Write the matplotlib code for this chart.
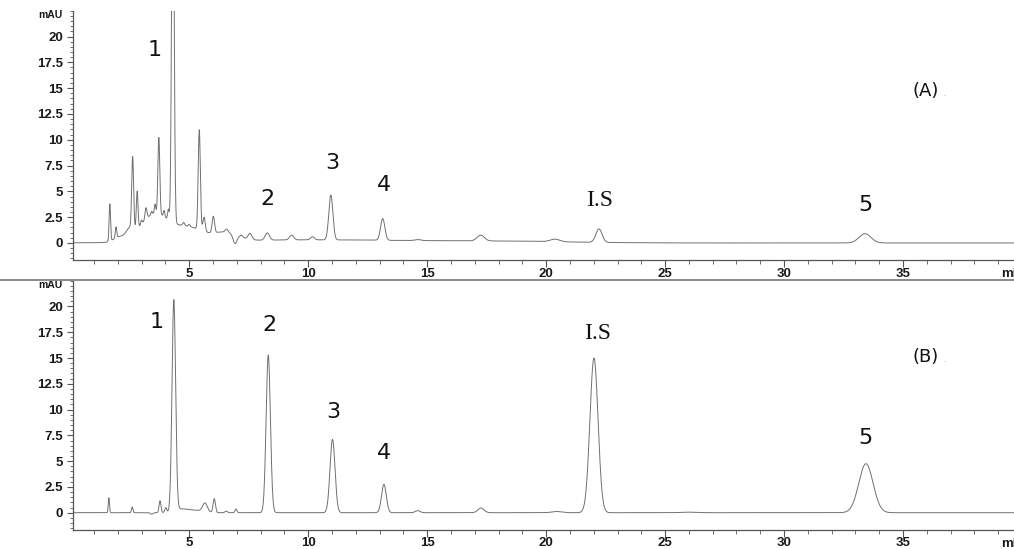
import numpy as np
import matplotlib
matplotlib.use('Agg')
import matplotlib.pyplot as plt
from matplotlib.ticker import MultipleLocator, FixedLocator
from matplotlib.lines import Line2D

# peak tables: retention time (min), height (mAU), sigma (min)
a_times = [1.66, 1.92, 2.05, 2.5, 2.62, 2.81, 2.99, 3.18, 3.42, 3.55, 3.56, 3.72, 3.94, 4.12,
           4.31, 4.76, 5.0, 5.0, 5.42, 5.62, 6.01, 6.5, 6.57, 6.92, 7.2, 7.55, 8.28, 9.3,
           10.0, 10.18, 10.95, 13.13, 14.6, 17.25, 18.0, 20.37, 22.22, 33.4]
a_heights = [3.6, 1.05, 0.45, 0.8, 6.9, 3.6, 0.4, 1.1, 0.3, 2.7, 0.9, 7.4, 0.6, 1.0,
             40.0, 0.3, 0.2, 1.3, 9.7, 1.4, 1.6, 0.8, 0.3, -0.85, 0.2, 0.6, 0.7, 0.45,
             0.3, 0.3, 4.35, 2.1, 0.1, 0.55, 0.15, 0.25, 1.3, 0.9]
a_widths = [0.03, 0.03, 0.25, 0.15, 0.04, 0.035, 0.03, 0.04, 0.03, 0.6, 0.03, 0.04, 0.03, 0.03,
            0.05, 0.04, 0.04, 0.6, 0.045, 0.05, 0.05, 0.5, 0.06, 0.08, 0.07, 0.08, 0.09, 0.09,
            4.0, 0.08, 0.085, 0.09, 0.12, 0.15, 3.0, 0.2, 0.13, 0.25]

b_times = [1.62, 2.60, 3.42, 3.77, 4.01, 4.35, 4.65, 5.3, 5.66, 6.05, 6.55, 6.96, 8.32,
           11.02, 13.18, 14.6, 17.26, 20.43, 22.01, 26.0, 33.44]
b_heights = [1.45, 0.55, -0.15, 1.15, 0.45, 20.45, 0.35, 0.2, 0.85, 1.35, 0.15, 0.35, 15.3,
             7.1, 2.75, 0.2, 0.45, 0.12, 15.0, 0.05, 4.75]
b_widths = [0.025, 0.03, 0.05, 0.04, 0.04, 0.075, 0.3, 0.3, 0.1, 0.05, 0.05, 0.04, 0.09,
            0.105, 0.1, 0.1, 0.13, 0.2, 0.17, 0.3, 0.3]

# peak labels
a_lab_text = ['1', '2', '3', '4', 'I.S', '5']
a_lab_x = [3.56, 8.28, 11.01, 13.18, 22.26, 33.44]
a_lab_y = [18.7, 4.24, 7.77, 5.6, 4.08, 3.66]
b_lab_text = ['1', '2', '3', '4', 'I.S', '5']
b_lab_x = [3.63, 8.39, 11.04, 13.19, 22.15, 33.44]
b_lab_y = [18.45, 18.2, 9.8, 5.77, 17.4, 7.25]
panel_tags = ['(A)', '(B)']
tag_y = [14.7, 15.1]

W, H = 1014, 549
fig = plt.figure(figsize=(W / 100, H / 100), dpi=100, facecolor='w')

t = np.linspace(0, 40, 8000)

def trace(times, heights, widths):
    y = np.zeros_like(t)
    for c, h, s in zip(times, heights, widths):
        y += h * np.exp(-(t - c) ** 2 / (2 * s ** 2))
    return y

tickfont = dict(family='Liberation Sans', size=9.5, weight='bold')
gray = '#555555'

def panel(top_px, bot_px, times, heights, widths, lx, ly, ltext, tag, tagy):
    ax = fig.add_axes([72.7 / W, 1 - bot_px / H, (1022 - 72.7) / W, (bot_px - top_px) / H])
    ax.plot(t, trace(times, heights, widths), color='#707070', lw=0.7)
    ax.set_xlim(0.1, 40)
    ax.set_ylim(-1.65, 22.5)
    for s in ['top', 'right']:
        ax.spines[s].set_visible(False)
    for s in ['left', 'bottom']:
        ax.spines[s].set_color(gray)
        ax.spines[s].set_linewidth(0.9)
    ax.xaxis.set_major_locator(FixedLocator([5, 10, 15, 20, 25, 30, 35]))
    ax.xaxis.set_minor_locator(MultipleLocator(1))
    ax.yaxis.set_major_locator(FixedLocator([0, 2.5, 5, 7.5, 10, 12.5, 15, 17.5, 20]))
    ax.yaxis.set_minor_locator(MultipleLocator(0.5))
    ax.set_yticklabels(['0', '2.5', '5', '7.5', '10', '12.5', '15', '17.5', '20'], fontdict=tickfont)
    ax.set_xticklabels(['5', '10', '15', '20', '25', '30', '35'], fontdict=tickfont)
    ax.tick_params(axis='y', which='major', length=4.3, width=0.8, color=gray, pad=2.5, labelcolor='#1a1a1a')
    ax.tick_params(axis='y', which='minor', length=2.2, width=0.6, color=gray)
    ax.tick_params(axis='x', which='major', length=5, width=0.8, color=gray, pad=0.5, labelcolor='#1a1a1a')
    ax.tick_params(axis='x', which='minor', length=3, width=0.6, color=gray)
    ax.annotate('mAU', xy=(0, 22.1), xycoords=ax.get_yaxis_transform(), xytext=(-7, 0),
                textcoords='offset points', ha='right', va='center', color='#1a1a1a',
                family='Liberation Sans', size=7.5, weight='bold')
    ax.annotate('min', xy=(39.12, 0), xycoords=ax.get_xaxis_transform(), xytext=(0, -6),
                textcoords='offset points', ha='left', va='top', color='#1a1a1a', **tickfont)
    for x, y, s in zip(lx, ly, ltext):
        if s == 'I.S':
            ax.text(x, y, s, ha='center', va='center', fontsize=17, family='Liberation Serif', color='#111111')
        else:
            ax.text(x, y, s, ha='center', va='center', fontsize=16, family='DejaVu Sans', color='#111111')
    ax.text(35.96, tagy, tag, ha='center', va='center', fontsize=13, family='DejaVu Sans', color='#111111')
    ax.text(36.75, tagy - 0.3, '.', ha='center', va='center', fontsize=5, color='#999999')
    return ax

panel(10.7, 260, a_times, a_heights, a_widths, a_lab_x, a_lab_y, a_lab_text, panel_tags[0], tag_y[0])
panel(280.7, 529.7, b_times, b_heights, b_widths, b_lab_x, b_lab_y, b_lab_text, panel_tags[1], tag_y[1])

fig.add_artist(Line2D([0, 1], [1 - 279.5 / H] * 2, transform=fig.transFigure, color='#8a8a8a', lw=1.4))

fig.savefig('out.png', dpi=100)
